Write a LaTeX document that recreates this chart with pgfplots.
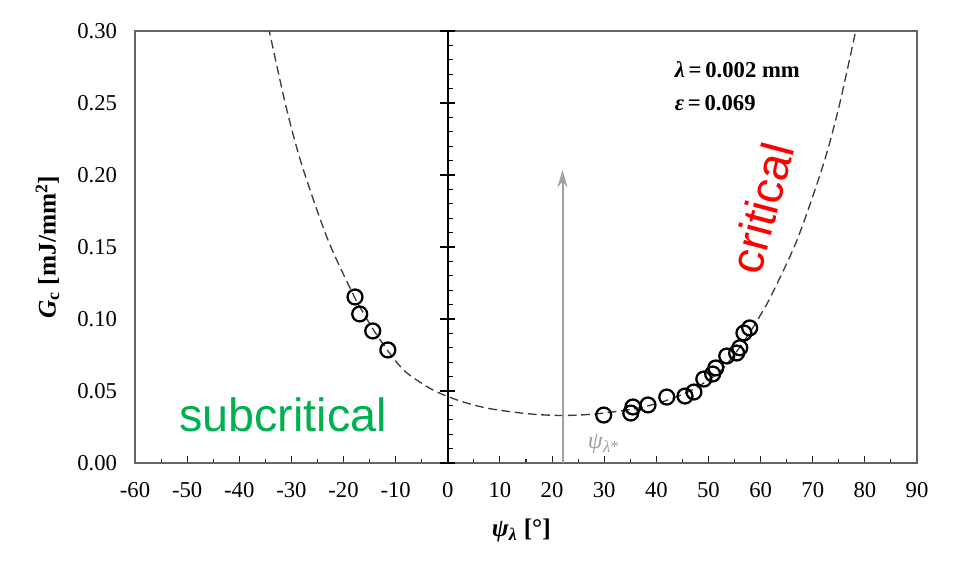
\documentclass[border=0pt]{standalone}
\usepackage{pgfplots}
\pgfplotsset{compat=1.18}
\usepackage{fontspec}
\setmainfont{Liberation Serif}
\newfontfamily\arial{Liberation Sans}
\usetikzlibrary{arrows.meta}
\definecolor{subgreen}{RGB}{0,176,80}
\definecolor{critred}{RGB}{255,0,0}
\definecolor{curvegray}{RGB}{60,60,60}
\definecolor{arrowgray}{RGB}{160,160,160}
\definecolor{framegray}{RGB}{100,100,100}
\begin{document}
\begin{tikzpicture}
\path (-101.25pt,-87pt) rectangle (618pt,347.25pt);
\begin{axis}[
  scale only axis, width=586.5pt, height=324pt,
  xmin=-60, xmax=90, ymin=0, ymax=0.3,
  axis line style={framegray, line width=1pt},
  xtick={-60,-50,...,90}, minor x tick num=1, xtick pos=bottom,
  tick align=inside,
  major tick length=5.25pt, minor tick length=3pt,
  every tick/.style={black!85, line width=0.8pt},
  ytick={0,0.05,0.10,0.15,0.20,0.25,0.30}, ytick pos=left,
  ytick style={draw=none},
  /pgf/number format/assume math mode=true,
  yticklabel style={/pgf/number format/.cd, fixed, fixed zerofill, precision=2, /tikz/.cd,
     font=\fontsize{17}{20}\selectfont, xshift=-10pt},
  xticklabel style={font=\fontsize{17}{20}\selectfont, yshift=-11pt},
  xlabel={\textbf{\textit{ψ}\textsubscript{\textit{λ}} [°]}},
  ylabel={\textbf{\textit{G}\textsubscript{c} [mJ/mm\textsuperscript{2}]}},
  every axis x label/.append style={at={(axis description cs:0.494,-0.155)}, anchor=center, font=\fontsize{19}{22}\selectfont},
  every axis y label/.append style={at={(axis description cs:-0.112,0.5)}, anchor=center, font=\fontsize{19}{22}\selectfont},
  clip=true,
]
% fitted curve (dashed)
\addplot[curvegray, line width=1pt, dash pattern=on 6.5pt off 3.5pt, smooth] coordinates {
 (-36,0.33) (-34,0.296) (-31,0.247) (-28,0.207) (-23,0.155) (-18,0.116) (-16,0.103)
 (-14,0.091) (-11,0.0755) (-8,0.063) (-3,0.051) (2,0.0435) (7,0.0385) (12,0.0356)
 (17,0.0337) (22,0.033) (27,0.0337) (32,0.0356) (37,0.0385) (42,0.0435) (47,0.051)
 (52,0.063) (55,0.0755) (58,0.091) (60,0.103) (62,0.116) (67,0.155) (72,0.207)
 (75,0.247) (78,0.296) (80,0.33)
};
% arrow at psi_lambda*
\addplot[arrowgray, line width=1.5pt, -{Stealth[length=13pt,width=7.5pt]}] coordinates {(22,0) (22,0.2035)};
% data points
\addplot[only marks, mark=o, mark size=5.6pt, mark options={black, line width=1.7pt}] coordinates {
 (-17.8,0.1153) (-16.9,0.1035) (-14.4,0.0917) (-11.5,0.0785)
 (29.9,0.0333) (35.1,0.0347) (35.5,0.0389) (38.4,0.0403) (42.0,0.0458) (45.5,0.0465)
 (47.2,0.0493) (49.1,0.0583) (50.8,0.0618) (51.4,0.0660) (53.5,0.0743) (55.4,0.0764)
 (56.0,0.0800) (56.8,0.0903) (57.9,0.0938)
};
\node[anchor=center, text=subgreen, font=\arial\fontsize{35}{40}\selectfont] at (axis cs:-31.6,0.0333) {subcritical};
\node[anchor=center, rotate=75, text=critred, font=\arial\fontsize{35}{40}\selectfont] at (axis cs:60.2,0.177) {critical};
\node[anchor=base west, font=\fontsize{17}{20}\selectfont\bfseries, inner sep=0pt] at (axis cs:43.5,0.2674) {\textit{λ}\,=\,0.002 mm};
\node[anchor=base west, font=\fontsize{17}{20}\selectfont\bfseries, inner sep=0pt] at (axis cs:43.5,0.2450) {\textit{ε}\,=\,0.069};
\node[anchor=west, text=arrowgray, font=\fontsize{18}{20}\selectfont, inner sep=0pt] at (axis cs:26.8,0.013) {\textit{ψ}\textsubscript{\textit{λ}*}};
\end{axis}
\begin{axis}[
  scale only axis, width=586.5pt, height=324pt,
  xmin=-60, xmax=90, ymin=0, ymax=0.3,
  axis x line=none, axis y line=center,
  y axis line style={-, line width=1.1pt, black},
  ytick={0,0.05,0.10,0.15,0.20,0.25,0.30}, yticklabels={},
  minor y tick num=4,
  tick align=center, major tick length=11pt, minor tick length=4pt,
  every tick/.style={black, line width=0.8pt},
  minor y tick style={xshift=2pt},
]
\end{axis}
\end{tikzpicture}
\end{document}
